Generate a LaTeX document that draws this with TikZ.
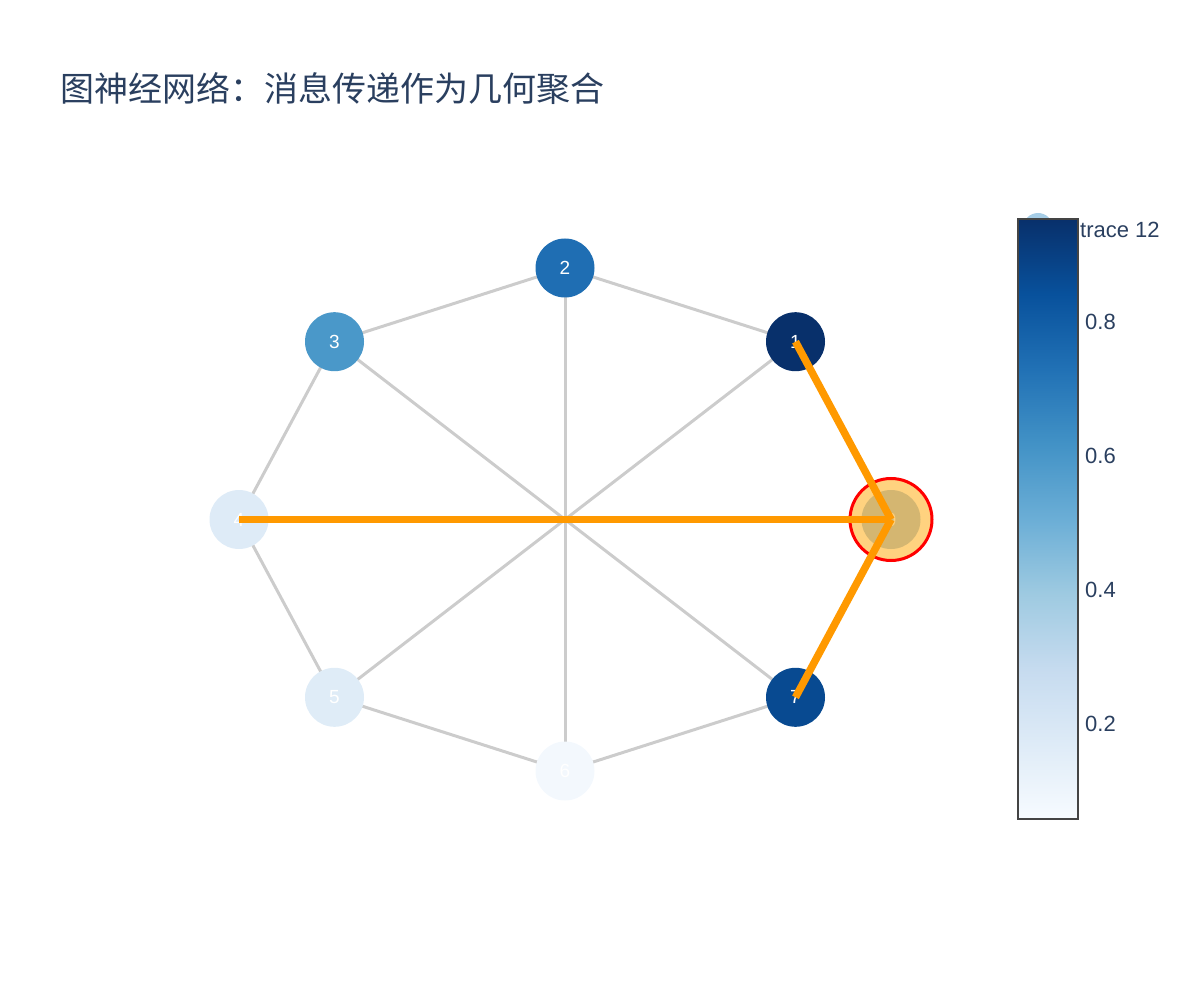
\documentclass[tikz,border=0pt]{standalone}
\usepackage{fontspec}
\setmainfont{Liberation Sans}
\newfontfamily\cjk{Noto Sans CJK SC}
\definecolor{txt}{HTML}{2A3F5F}
\definecolor{edgegray}{HTML}{CCCCCC}
\definecolor{msg}{HTML}{FF9900}
\definecolor{hlfill}{HTML}{FFA500}
\definecolor{cA}{HTML}{08306B}
\definecolor{cB}{HTML}{084A91}
\definecolor{cC}{HTML}{1F6EB3}
\definecolor{cD}{HTML}{4A98C9}
\definecolor{cE}{HTML}{DEEBF7}
\definecolor{cF}{HTML}{DFECF7}
\definecolor{cG}{HTML}{F3F8FD}
\definecolor{cH}{HTML}{AAC8E4}
\definecolor{legc}{HTML}{A6CDE6}
\definecolor{b0}{HTML}{F7FBFF}
\definecolor{b1}{HTML}{DEEBF7}
\definecolor{b2}{HTML}{C6DBEF}
\definecolor{b3}{HTML}{9ECAE1}
\definecolor{b4}{HTML}{6BAED6}
\definecolor{b5}{HTML}{4292C6}
\definecolor{b6}{HTML}{2171B5}
\definecolor{b7}{HTML}{08519C}
\definecolor{b8}{HTML}{08306B}
\definecolor{cbborder}{HTML}{444444}
\tikzset{
  gedge/.style={draw=edgegray, line width=3pt},
  oedge/.style={draw=msg, line width=7.5pt},
  gnode/.style={circle, minimum size=59pt, inner sep=0pt, text=white, font=\fontsize{19}{19}\selectfont},
  ticklab/.style={anchor=west, text=txt, font=\fontsize{22}{22}\selectfont, inner sep=0pt},
}
\begin{document}
\begin{tikzpicture}[x=1pt,y=-1pt]
\useasboundingbox (0,0) rectangle (1200,1000);
% positions
\coordinate (c0) at (891,519.5);
\coordinate (c1) at (795.5,341.7);
\coordinate (c2) at (565,268);
\coordinate (c3) at (334.5,341.7);
\coordinate (c4) at (239,519.5);
\coordinate (c5) at (334.5,697.3);
\coordinate (c6) at (565,771);
\coordinate (c7) at (795.5,697.3);
% title
\node[anchor=west, inner sep=0pt, text=txt, font=\cjk\fontsize{34}{34}\selectfont] (title) at (60,89) {图神经网络：消息传递作为几何聚合};
% gray edges
\foreach \a/\b in {0/1,1/2,2/3,3/4,4/5,5/6,6/7,7/0,0/4,1/5,2/6,3/7}
  \draw[gedge] (c\a) -- (c\b);
% nodes
\node[gnode, fill=cA] (n1) at (c1) {1};
\node[gnode, fill=cC] (n2) at (c2) {2};
\node[gnode, fill=cD] (n3) at (c3) {3};
\node[gnode, fill=cE] (n4) at (c4) {4};
\node[gnode, fill=cF] (n5) at (c5) {5};
\node[gnode, fill=cG] (n6) at (c6) {6};
\node[gnode, fill=cB] (n7) at (c7) {7};
\node[gnode, fill=cH] (n0) at (c0) {0};
% highlight of target node
\node[circle, minimum size=82pt, inner sep=0pt, fill=hlfill, fill opacity=0.5, draw=red, draw opacity=1, line width=3pt] (hl) at (c0) {};
% message edges
\draw[oedge] (n1.center) -- (n0.center);
\draw[oedge] (n4.center) -- (n0.center);
\draw[oedge] (n7.center) -- (n0.center);
% legend marker (behind colorbar)
\node[circle, minimum size=30pt, inner sep=0pt, fill=legc] (legm) at (1038,228) {};
\node[ticklab] (legt) at (1080,230) {trace 12};
% colorbar
\shade[top color=b1, bottom color=b0] (1018,744) rectangle (1078,819);
\shade[top color=b2, bottom color=b1] (1018,669) rectangle (1078,744);
\shade[top color=b3, bottom color=b2] (1018,594) rectangle (1078,669);
\shade[top color=b4, bottom color=b3] (1018,519) rectangle (1078,594);
\shade[top color=b5, bottom color=b4] (1018,444) rectangle (1078,519);
\shade[top color=b6, bottom color=b5] (1018,369) rectangle (1078,444);
\shade[top color=b7, bottom color=b6] (1018,294) rectangle (1078,369);
\shade[top color=b8, bottom color=b7] (1018,219) rectangle (1078,294);
\draw[draw=cbborder, line width=2pt] (1018,219) rectangle (1078,819);
\node[ticklab] (t8) at (1085,322) {0.8};
\node[ticklab] (t6) at (1085,456) {0.6};
\node[ticklab] (t4) at (1085,590) {0.4};
\node[ticklab] (t2) at (1085,724) {0.2};
\end{tikzpicture}
\end{document}
